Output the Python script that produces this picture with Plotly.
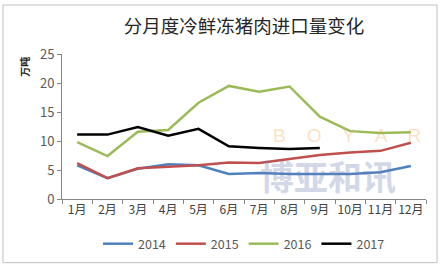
import plotly.graph_objects as go

months = ["1月", "2月", "3月", "4月", "5月", "6月", "7月", "8月", "9月", "10月", "11月", "12月"]
y2014 = [5.8, 3.6, 5.2, 6.0, 5.8, 4.3, 4.5, 4.3, 4.3, 4.3, 4.6, 5.7]
y2015 = [6.2, 3.6, 5.3, 5.6, 5.8, 6.3, 6.2, 6.9, 7.6, 8.0, 8.3, 9.7]
y2016 = [9.8, 7.4, 11.6, 11.9, 16.6, 19.5, 18.5, 19.4, 14.2, 11.7, 11.4, 11.5]
y2017 = [11.1, 11.1, 12.4, 10.9, 12.1, 9.1, 8.8, 8.6, 8.8]

series = [("2014", y2014, "#4F81BD"), ("2015", y2015, "#C0504D"),
          ("2016", y2016, "#9BBB59"), ("2017", y2017, "#000000")]

fig = go.Figure()
for name, vals, col in series:
    fig.add_trace(go.Scatter(x=months[:len(vals)], y=vals, name=name, mode="lines",
                             line=dict(color=col, width=2.5)))

font = "Noto Sans CJK SC, Microsoft YaHei, sans-serif"
L, R, T, B = 62, 17, 54, 69
pw, ph = 443 - L - R, 271 - T - B

def px(x):
    return (x - L) / pw

def py(y):
    return (271 - B - y) / ph

fig.update_layout(
    width=443, height=271,
    margin=dict(l=L, r=R, t=T, b=B),
    paper_bgcolor="white", plot_bgcolor="white",
    font=dict(family=font, size=12, color="#595959"),
    title=dict(text="分月度冷鲜冻猪肉进口量变化", x=0.5, xref="paper", xanchor="center",
               y=1 - 27 / 271, yanchor="middle",
               font=dict(size=18.5, color="#262626", family=font)),
    showlegend=True,
    legend=dict(orientation="h", x=0.5, xanchor="center", y=py(248), yanchor="middle",
                font=dict(size=12.5, color="#595959"), itemwidth=30, tracegroupgap=0),
    xaxis=dict(type="category", range=[-0.5, 11.5], showgrid=False, showline=True,
               linecolor="#868686", linewidth=1, ticks="outside", tickson="boundaries",
               ticklen=4, tickcolor="#868686", tickangle=0,
               tickfont=dict(size=12, color="#404040")),
    yaxis=dict(range=[0, 25], dtick=5, showgrid=False, showline=True, linecolor="#868686",
               linewidth=1, ticks="outside", ticklen=4, tickcolor="#868686", zeroline=False,
               tickfont=dict(size=13, color="#595959")),
    shapes=[dict(type="rect", xref="paper", yref="paper", x0=px(3), x1=px(437),
                 y0=py(267), y1=py(4), line=dict(color="#BFBFBF", width=1), layer="below")],
    annotations=[
        dict(text="<b>万吨</b>", xref="paper", yref="paper", x=px(25), y=py(67),
             xanchor="center", yanchor="middle",
             showarrow=False, textangle=-90, font=dict(size=10, color="#262626", family=font)),
        dict(text="B    O    Y    A    R", xref="paper", yref="paper", x=px(347), y=py(137),
             xanchor="center", yanchor="middle",
             showarrow=False, opacity=0.3, font=dict(size=19, color="#F0A040", family="Liberation Sans")),
        dict(text="<b>博亚和讯</b>", xref="paper", yref="paper", x=px(328), y=py(178),
             xanchor="center", yanchor="middle",
             showarrow=False, opacity=0.3, font=dict(size=34, color="#6F7FB8", family=font)),
    ],
)

fig.write_html("out.html")
